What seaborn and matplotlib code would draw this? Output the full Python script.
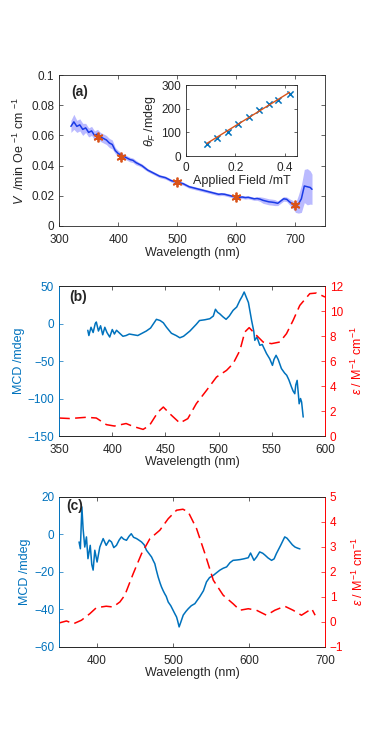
import numpy as np
import pandas as pd
import matplotlib
matplotlib.use('Agg')
import matplotlib.pyplot as plt
import seaborn as sns

sns.set_style('ticks')
plt.rcParams['font.family'] = ['Liberation Sans', 'DejaVu Sans']
plt.rcParams['mathtext.fontset'] = 'custom'
plt.rcParams['mathtext.rm'] = 'Liberation Sans'
plt.rcParams['mathtext.it'] = 'Liberation Sans:italic'
plt.rcParams['font.size'] = 8.5

BLUE = '#0072BD'
ORANGE = '#D95319'
RED = '#FF0000'
DARK = '#262626'

# ---- panel (a): Verdet constant ----
wl_a = [320, 325, 330, 335, 340, 345, 350, 355, 360, 365, 370, 375, 380, 385, 390, 395,
        400, 405, 410, 415, 420, 425, 430, 435, 440, 445, 450, 455, 460, 465, 470, 475,
        480, 485, 490, 495, 500, 505, 510, 515, 520, 525, 530, 535, 540, 545, 550, 555,
        560, 565, 570, 575, 580, 585, 590, 595, 600, 605, 610, 615, 620, 625, 630, 635,
        640, 645, 650, 655, 660, 665, 670, 675, 680, 685, 690, 695, 700, 705, 710, 715,
        720, 725, 728]
v_a = [0.066, 0.069, 0.066, 0.067, 0.064, 0.065, 0.062, 0.063, 0.060, 0.061, 0.059, 0.058,
       0.057, 0.055, 0.054, 0.050, 0.048, 0.047, 0.046, 0.045, 0.044, 0.0435, 0.042, 0.041,
       0.040, 0.0385, 0.037, 0.036, 0.035, 0.034, 0.033, 0.0325, 0.032, 0.031, 0.030, 0.0295,
       0.029, 0.0285, 0.028, 0.027, 0.026, 0.0255, 0.025, 0.0245, 0.024, 0.0235, 0.023, 0.0225,
       0.022, 0.0215, 0.021, 0.0212, 0.021, 0.0205, 0.020, 0.0195, 0.019, 0.019, 0.0192, 0.0188,
       0.019, 0.0185, 0.018, 0.0182, 0.0178, 0.017, 0.0165, 0.016, 0.0158, 0.0155, 0.015, 0.0165,
       0.018, 0.0177, 0.016, 0.0145, 0.012, 0.0145, 0.018, 0.0265, 0.026, 0.0255, 0.0243]
err_a = [0.004, 0.005, 0.004, 0.004, 0.004, 0.003, 0.003, 0.003, 0.003, 0.003, 0.003, 0.003,
         0.003, 0.003, 0.003, 0.002, 0.002, 0.0015, 0.0015, 0.0015, 0.0015, 0.0015, 0.0015, 0.0012,
         0.0012, 0.0012, 0.001, 0.001, 0.001, 0.001, 0.001, 0.001, 0.001, 0.001, 0.001, 0.001,
         0.001, 0.001, 0.001, 0.001, 0.001, 0.001, 0.001, 0.001, 0.001, 0.001, 0.001, 0.001,
         0.001, 0.001, 0.001, 0.001, 0.001, 0.001, 0.001, 0.001, 0.001, 0.001, 0.001, 0.001,
         0.001, 0.001, 0.001, 0.0012, 0.0015, 0.002, 0.002, 0.002, 0.002, 0.002, 0.0015, 0.0015,
         0.0015, 0.0015, 0.002, 0.0025, 0.003, 0.006, 0.009, 0.011, 0.012, 0.011, 0.010]
star_wl = [365, 405, 500, 600, 700]
star_v = [0.059, 0.046, 0.029, 0.019, 0.014]

# inset: Faraday rotation vs applied field
field = [0.085, 0.125, 0.17, 0.21, 0.255, 0.295, 0.335, 0.375, 0.42]
theta = [53, 78, 103, 135, 167, 195, 222, 238, 262]

# ---- panel (b) ----
wl_b_mcd = [377, 378, 380, 382, 384, 385, 387, 389, 391, 393, 395, 397.6, 400, 402, 404, 407,
            410, 413, 416, 420, 424, 428, 432, 436, 441.5, 445, 448, 451, 455.6, 460, 463.5,
            467, 470, 473, 476, 479, 482, 487, 491.7, 495, 497, 499, 501, 504, 507, 510,
            513.6, 517, 520, 522, 524, 526, 528, 531, 533, 534, 536, 538.7, 541, 545, 548,
            550.6, 552, 554, 556, 559, 562, 564, 566, 568.5, 570, 571.6, 572.5, 573.8, 575,
            575.7, 577, 578, 579.5]
mcd_b = [-9, -16, -5, -12, 0, 2, -10, -3, -15, -5, -12, -18, -8, -14, -9, -13,
         -17, -16, -14, -15, -16, -13, -10, -6, 5.6, 4, 1, -5, -13, -16, -19,
         -17, -13.5, -10, -5.5, -1, 4, 5, 6.4, 10, 19, 15, 13, 9, 5.6, 10,
         17.6, 22, 31, 36, 42, 35, 28, 4, -10, -22.4, -18, -29, -28, -40, -47,
         -55.8, -48, -42.4, -48, -60, -66, -69, -75, -84.7, -90, -93.6, -82, -75.8, -95,
         -107, -100, -104.7, -124.7]
wl_b_eps = [350, 360, 368, 375.7, 385, 394.5, 402, 413, 419.6, 429, 435, 443, 448, 454,
            463.5, 471, 479, 488.6, 498, 507.4, 513.6, 520, 524.6, 528.7, 534, 541.8,
            549.7, 557.5, 563.8, 570, 576.3, 585.7, 592, 600]
eps_b = [1.44, 1.4, 1.45, 1.5, 1.44, 0.91, 0.8, 1.0, 0.77, 0.53, 0.85, 1.92, 2.32, 1.79,
         1.04, 1.39, 2.59, 3.65, 4.72, 5.25, 5.79, 6.85, 8.32, 8.67, 8.19, 7.52,
         7.39, 7.52, 8.19, 9.25, 10.45, 11.39, 11.44, 11.12]

# ---- panel (c) ----
wl_c_mcd = [376.3, 378, 380, 381.6, 383.8, 386, 388, 391, 393, 394.8, 397, 400, 403.6, 408,
            412, 416, 419, 422, 425.5, 429, 432, 435, 438.7, 442, 445, 448, 452, 455,
            458.5, 462, 465, 468, 471.7, 474, 476, 478, 480.4, 483, 484.8, 487, 489, 491,
            493.6, 497, 500, 502, 504.6, 506, 508, 510, 513.4, 517, 520, 524, 528.7, 532,
            535, 540, 544, 548, 553, 557, 561.7, 566, 570.5, 575, 579, 584, 588, 593, 599,
            602, 606.5, 610, 614, 618, 621, 625, 629.7, 633, 636, 641.6, 647, 650, 654,
            657, 660.5, 664, 667]
mcd_c = [-4, -7.6, 14.7, 3, -6.7, -1.3, -12.9, -5.8, -16, -19, -8.4, -14.7, -6.7, -2.2,
         -5.8, -3, -4, -7, -5.8, -3, -1.3, -2.5, -3.1, -1, 0.4, -1.5, -2.2, -3,
         -4, -5.5, -8.4, -10, -12, -14, -15.6, -19, -22.7, -26, -28, -30, -31.6, -33,
         -36, -38, -40.4, -42, -44, -46, -49.3, -47, -43, -41, -39.6, -38, -36.9, -35,
         -33.3, -30, -25.3, -23, -21.8, -20.5, -19, -18, -17.3, -15, -13.8, -13.6, -13.4, -13, -12.4,
         -9.9, -13.8, -12, -9.3, -10, -11, -12.5, -13.8, -13, -10.2, -5.8, -1.3, -2, -4,
         -5.5, -6.7, -7.3, -7.7]
wl_c_eps = [350, 359.7, 369, 379.4, 390.4, 399, 412, 421, 430, 436.5, 447.5, 458.5, 469.5,
            482.6, 493.6, 504.6, 513, 520, 531, 542, 553, 566, 579, 588, 599, 609.8, 623,
            634, 647, 658, 669, 682.5, 687]
eps_c = [-0.04, 0.04, -0.07, 0.07, 0.33, 0.57, 0.63, 0.6, 0.8, 1.07, 1.93, 2.73, 3.33,
         3.67, 4.13, 4.47, 4.51, 4.4, 3.73, 2.73, 1.67, 1.07, 0.73, 0.47, 0.53, 0.47, 0.27,
         0.47, 0.63, 0.47, 0.27, 0.53, 0.27]

TICK_FS = 8.5
LABEL_FS = 9
DASH = [7, 3.5]


def style_axes(ax, left_color=DARK, right_color=DARK):
    for s in ax.spines.values():
        s.set_linewidth(0.6)
        s.set_color(DARK)
        s.set_visible(True)
    ax.spines['left'].set_color(left_color)
    ax.spines['right'].set_color(right_color)
    ax.tick_params(direction='in', length=3, width=0.5, top=True, colors=DARK,
                   labelsize=TICK_FS)
    ax.tick_params(axis='x', pad=5.5)
    ax.tick_params(axis='y', pad=3.5)


fig = plt.figure(figsize=(3.74, 7.47), dpi=100)

# (a)
ax_a = fig.add_axes([0.158, 0.6975, 0.711, 0.202])
ax_a.fill_between(wl_a, np.array(v_a) - np.array(err_a), np.array(v_a) + np.array(err_a),
                  color='#8c8cff', alpha=0.6, lw=0)
sns.lineplot(x=wl_a, y=v_a, ax=ax_a, color='#1a3be6', lw=1.1, sort=False, estimator=None)
ax_a.plot(star_wl, star_v, ls='none', marker=(6, 2, 0), ms=7, mew=1.3, color=ORANGE)
ax_a.set_xlim(300, 750)
ax_a.set_ylim(0, 0.1)
ax_a.set_xticks([300, 400, 500, 600, 700])
ax_a.set_yticks([0, 0.02, 0.04, 0.06, 0.08, 0.1])
ax_a.set_yticklabels(['0', '0.02', '0.04', '0.06', '0.08', '0.1'])
style_axes(ax_a)
ax_a.tick_params(right=True)
ax_a.set_xlabel('Wavelength (nm)', fontsize=LABEL_FS, color=DARK, labelpad=1)
ax_a.set_ylabel(r'$V$  /min Oe $^{-1}$ cm $^{-1}$', fontsize=LABEL_FS, color=DARK, labelpad=3)
ax_a.text(0.045, 0.89, '(a)', transform=ax_a.transAxes, fontsize=10, fontweight='bold',
          va='center', ha='left')

# inset
ax_i = fig.add_axes([0.497, 0.791, 0.297, 0.095])
fit = np.polyfit(field, theta, 1)
fx = np.array([field[0], field[-1]])
sns.lineplot(x=fx, y=np.polyval(fit, fx), ax=ax_i, color=ORANGE, lw=1.0)
sns.scatterplot(x=field, y=theta, ax=ax_i, marker='x', color=BLUE, s=20, linewidth=1.1)
ax_i.set_xlim(0, 0.45)
ax_i.set_ylim(0, 300)
ax_i.set_xticks([0, 0.2, 0.4])
ax_i.set_xticklabels(['0', '0.2', '0.4'])
ax_i.set_yticks([0, 100, 200, 300])
style_axes(ax_i)
ax_i.tick_params(right=True, length=2)
ax_i.tick_params(axis='x', pad=4)
ax_i.set_xlabel('Applied Field /mT', fontsize=LABEL_FS, color=DARK, labelpad=1)
ax_i.set_ylabel(r'$\theta_F$ /mdeg', fontsize=LABEL_FS, color=DARK, labelpad=2)

# (b)
ax_b = fig.add_axes([0.158, 0.4163, 0.711, 0.2008])
ax_b2 = ax_b.twinx()
sns.lineplot(x=wl_b_mcd, y=mcd_b, ax=ax_b, color=BLUE, lw=1.1, sort=False, estimator=None)
sns.lineplot(x=wl_b_eps, y=eps_b, ax=ax_b2, color=RED, lw=1.1, sort=False, estimator=None)
ax_b2.lines[0].set_dashes(DASH)
ax_b.set_xlim(350, 600)
ax_b.set_ylim(-150, 50)
ax_b2.set_ylim(0, 12)
ax_b.set_xticks([350, 400, 450, 500, 550, 600])
ax_b.set_yticks([-150, -100, -50, 0, 50])
ax_b2.set_yticks([0, 2, 4, 6, 8, 10, 12])
style_axes(ax_b, BLUE, RED)
style_axes(ax_b2, BLUE, RED)
ax_b.tick_params(axis='y', colors=BLUE, right=False)
ax_b2.tick_params(axis='y', colors=RED, left=False)
ax_b.set_xlabel('Wavelength (nm)', fontsize=LABEL_FS, color=DARK, labelpad=0)
ax_b.set_ylabel('MCD /mdeg', fontsize=LABEL_FS, color=BLUE, labelpad=2)
ax_b2.set_ylabel(r'$\epsilon$ / M$^{-1}$ cm$^{-1}$', fontsize=LABEL_FS, color=RED, labelpad=5)
ax_b.text(0.038, 0.927, '(b)', transform=ax_b.transAxes, fontsize=10, fontweight='bold',
          va='center', ha='left')

# (c)
ax_c = fig.add_axes([0.158, 0.1339, 0.711, 0.2008])
ax_c2 = ax_c.twinx()
sns.lineplot(x=wl_c_mcd, y=mcd_c, ax=ax_c, color=BLUE, lw=1.1, sort=False, estimator=None)
sns.lineplot(x=wl_c_eps, y=eps_c, ax=ax_c2, color=RED, lw=1.1, sort=False, estimator=None)
ax_c2.lines[0].set_dashes(DASH)
ax_c.set_xlim(350, 700)
ax_c.set_ylim(-60, 20)
ax_c2.set_ylim(-1, 5)
ax_c.set_xticks([400, 500, 600, 700])
ax_c.set_yticks([-60, -40, -20, 0, 20])
ax_c2.set_yticks([-1, 0, 1, 2, 3, 4, 5])
style_axes(ax_c, BLUE, RED)
style_axes(ax_c2, BLUE, RED)
ax_c.tick_params(axis='y', colors=BLUE, right=False)
ax_c2.tick_params(axis='y', colors=RED, left=False)
ax_c.set_xlabel('Wavelength (nm)', fontsize=LABEL_FS, color=DARK, labelpad=0)
ax_c.set_ylabel('MCD /mdeg', fontsize=LABEL_FS, color=BLUE, labelpad=2)
ax_c2.set_ylabel(r'$\epsilon$ / M$^{-1}$ cm$^{-1}$', fontsize=LABEL_FS, color=RED, labelpad=5)
ax_c.text(0.027, 0.94, '(c)', transform=ax_c.transAxes, fontsize=10, fontweight='bold',
          va='center', ha='left')

fig.savefig('out.png', dpi=100)
